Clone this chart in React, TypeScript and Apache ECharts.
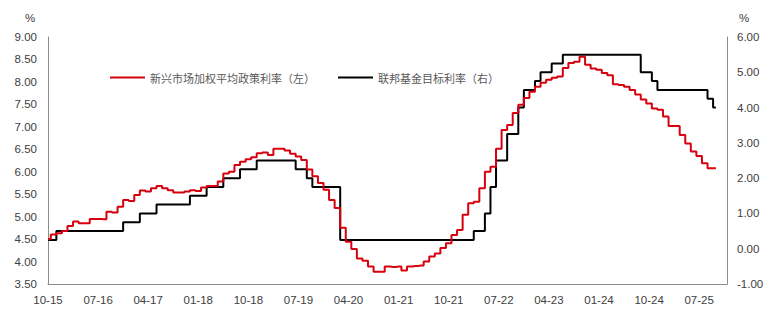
import React, { useEffect, useRef } from "react";
import * as echarts from "echarts";

// Monthly categories, 2015-10 .. 2025-12 (label format MM-YY)
const startYear = 2015;
const startMonth = 10;
const monthCount = 123;
const categories: string[] = [];
for (let k = 0; k < monthCount; k++) {
  const m = ((startMonth - 1 + k) % 12) + 1;
  const y = startYear + Math.floor((startMonth - 1 + k) / 12);
  categories.push(`${String(m).padStart(2, "0")}-${String(y % 100).padStart(2, "0")}`);
}

const seriesNames = ["新兴市场加权平均政策利率（左）", "联邦基金目标利率（右）"];

// Emerging-market weighted average policy rate (left axis, %)
const emRate: number[] = [
  4.5, 4.6, 4.63, 4.68, 4.79, 4.89, 4.85, 4.85, 4.95, 4.95,
  4.94, 5.11, 5.09, 5.22, 5.37, 5.35, 5.48, 5.58, 5.56, 5.63,
  5.68, 5.63, 5.59, 5.54, 5.54, 5.56, 5.59, 5.57, 5.65, 5.68,
  5.68, 5.78, 5.96, 6.0, 6.15, 6.22, 6.28, 6.32, 6.41, 6.43,
  6.37, 6.51, 6.51, 6.47, 6.4, 6.34, 6.26, 6.05, 5.9, 5.75,
  5.6, 5.37, 5.19, 4.75, 4.44, 4.28, 4.07, 4.02, 3.89, 3.77,
  3.77, 3.89, 3.88, 3.89, 3.8, 3.89, 3.9, 3.91, 4.0, 4.11,
  4.18, 4.3, 4.41, 4.59, 4.7, 5.04, 5.3, 5.33, 5.63, 6.0,
  6.11, 6.51, 6.93, 7.04, 7.31, 7.49, 7.64, 7.78, 7.89, 7.98,
  8.05, 8.09, 8.12, 8.31, 8.42, 8.45, 8.56, 8.38, 8.3, 8.27,
  8.2, 8.15, 7.95, 7.93, 7.89, 7.82, 7.72, 7.61, 7.52, 7.41,
  7.38, 7.23, 7.02, 7.02, 6.82, 6.63, 6.45, 6.35, 6.19, 6.08, 6.08,
];

// Federal funds target rate, upper bound (right axis, %)
const fedRate: number[] = [
  0.25, 0.25, 0.5, 0.5, 0.5, 0.5, 0.5, 0.5, 0.5, 0.5,
  0.5, 0.5, 0.5, 0.5, 0.75, 0.75, 0.75, 1.0, 1.0, 1.0,
  1.25, 1.25, 1.25, 1.25, 1.25, 1.25, 1.5, 1.5, 1.5, 1.75,
  1.75, 1.75, 2.0, 2.0, 2.0, 2.25, 2.25, 2.25, 2.5, 2.5,
  2.5, 2.5, 2.5, 2.5, 2.5, 2.25, 2.25, 2.0, 1.75, 1.75,
  1.75, 1.75, 1.75, 0.25, 0.25, 0.25, 0.25, 0.25, 0.25, 0.25,
  0.25, 0.25, 0.25, 0.25, 0.25, 0.25, 0.25, 0.25, 0.25, 0.25,
  0.25, 0.25, 0.25, 0.25, 0.25, 0.25, 0.25, 0.5, 0.5, 1.0,
  1.75, 2.5, 2.5, 3.25, 3.25, 4.0, 4.5, 4.5, 4.75, 5.0,
  5.0, 5.25, 5.25, 5.5, 5.5, 5.5, 5.5, 5.5, 5.5, 5.5,
  5.5, 5.5, 5.5, 5.5, 5.5, 5.5, 5.5, 5.0, 5.0, 4.75,
  4.5, 4.5, 4.5, 4.5, 4.5, 4.5, 4.5, 4.5, 4.5, 4.25, 4.0,
];

const leftAxis = { min: 3.5, max: 9, interval: 0.5 };
const rightAxis = { min: -1, max: 6, interval: 1 };

const RED = "#d7000f";
const TXT = "#404040";
const LEGEND_TXT = "#595959";
const AXIS = "#8c8c8c";
const FONT = "'Liberation Sans', Arial, sans-serif";

export default function App() {
  const ref = useRef<HTMLDivElement>(null);
  useEffect(() => {
    if (!ref.current) return;
    const chart = echarts.init(ref.current, undefined, { renderer: "svg" });
    chart.setOption({
      animation: false,
      backgroundColor: "#fff",
      textStyle: { fontFamily: FONT },
      grid: { left: 48, right: 43, top: 37, bottom: 29, containLabel: false },
      legend: {
        data: seriesNames,
        left: 105,
        top: 67,
        icon: "rect",
        itemWidth: 35,
        itemHeight: 2,
        itemGap: 23,
        textStyle: { fontSize: 11, color: LEGEND_TXT, fontFamily: "'Noto Sans CJK SC', sans-serif" },
      },
      graphic: [
        { type: "text", left: 25, top: 12, style: { text: "%", fontSize: 11.5, fill: TXT, fontFamily: FONT } },
        { type: "text", left: 739, top: 12, style: { text: "%", fontSize: 11.5, fill: TXT, fontFamily: FONT } },
      ],
      xAxis: {
        type: "category",
        data: categories,
        boundaryGap: false,
        axisLine: { show: true, onZero: false, lineStyle: { color: AXIS, width: 1 } },
        axisTick: { show: false },
        axisLabel: { interval: 8, color: TXT, fontSize: 11.5, margin: 10, fontFamily: FONT },
        splitLine: { show: false },
      },
      yAxis: [
        {
          type: "value",
          min: leftAxis.min,
          max: leftAxis.max,
          interval: leftAxis.interval,
          position: "left",
          axisLine: { show: true, lineStyle: { color: AXIS, width: 1 } },
          axisTick: { show: false },
          splitLine: { show: false },
          axisLabel: {
            color: TXT,
            fontSize: 11.5,
            margin: 11,
            fontFamily: FONT,
            formatter: (v: number) => v.toFixed(2),
          },
        },
        {
          type: "value",
          min: rightAxis.min,
          max: rightAxis.max,
          interval: rightAxis.interval,
          position: "right",
          axisLine: { show: true, lineStyle: { color: AXIS, width: 1 } },
          axisTick: { show: false },
          splitLine: { show: false },
          axisLabel: {
            color: TXT,
            fontSize: 11.5,
            margin: 10,
            fontFamily: FONT,
            formatter: (v: number) => v.toFixed(2),
          },
        },
      ],
      series: [
        {
          name: seriesNames[0],
          type: "line",
          yAxisIndex: 0,
          data: emRate,
          step: "middle",
          symbol: "none",
          z: 3,
          itemStyle: { color: RED },
          lineStyle: { color: RED, width: 2 },
        },
        {
          name: seriesNames[1],
          type: "line",
          yAxisIndex: 1,
          data: fedRate,
          step: "middle",
          symbol: "none",
          z: 2,
          itemStyle: { color: "#000" },
          lineStyle: { color: "#000", width: 2 },
        },
      ],
    });
    return () => chart.dispose();
  }, []);
  return <div ref={ref} style={{ width: 770, height: 313, position: "absolute", left: 0, top: 0 }} />;
}
